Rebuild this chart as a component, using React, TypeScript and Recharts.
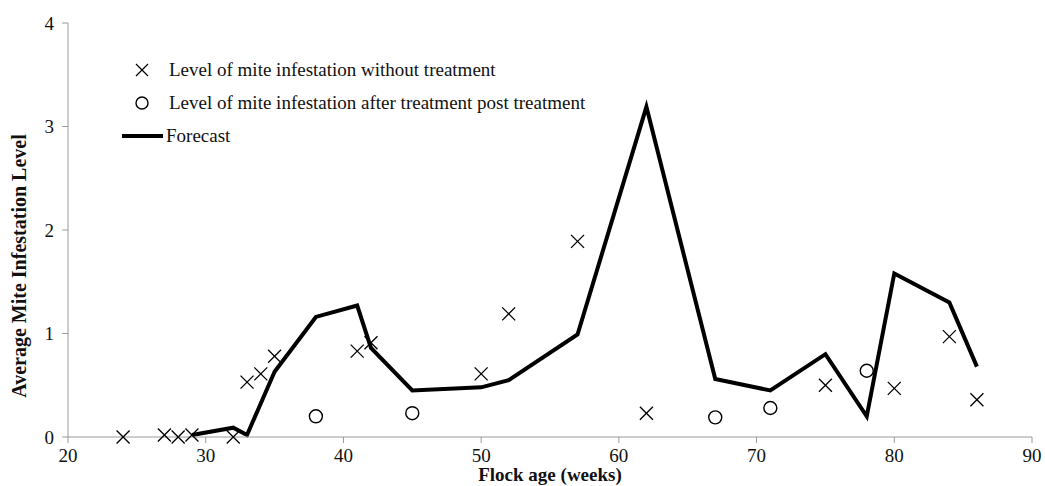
import React from 'react';
import { ComposedChart, Line, Scatter, XAxis, YAxis, Label } from 'recharts';

const untreatedWeeks = [24, 27, 28, 29, 32, 33, 34, 35, 41, 42, 50, 52, 57, 62, 75, 80, 84, 86];
const untreatedLevels = [0, 0.02, 0, 0.02, 0, 0.53, 0.61, 0.78, 0.83, 0.91, 0.61, 1.19, 1.89, 0.23, 0.5, 0.47, 0.97, 0.36];

const treatedWeeks = [38, 45, 67, 71, 78];
const treatedLevels = [0.2, 0.23, 0.19, 0.28, 0.64];

const forecastWeeks = [29, 32, 33, 35, 38, 41, 42, 45, 50, 52, 57, 62, 67, 71, 75, 78, 80, 84, 86];
const forecastLevels = [0.02, 0.09, 0.02, 0.63, 1.16, 1.27, 0.86, 0.45, 0.48, 0.55, 0.99, 3.19, 0.56, 0.45, 0.8, 0.2, 1.58, 1.3, 0.68];

const xTicks = [20, 30, 40, 50, 60, 70, 80, 90];
const yTicks = [0, 1, 2, 3, 4];

const untreated = untreatedWeeks.map((x, i) => ({ x, y: untreatedLevels[i] }));
const treated = treatedWeeks.map((x, i) => ({ x, y: treatedLevels[i] }));
const forecast = forecastWeeks.map((x, i) => ({ x, y: forecastLevels[i] }));

const FONT = '"Liberation Serif", "DejaVu Serif", serif';
const AXIS = '#9a9a9a';

const XMark = (props: any) => {
  const { cx, cy } = props;
  const r = 6.5;
  return (
    <g stroke="#000" strokeWidth={1.3}>
      <line x1={cx - r} y1={cy - r} x2={cx + r} y2={cy + r} />
      <line x1={cx - r} y1={cy + r} x2={cx + r} y2={cy - r} />
    </g>
  );
};

const OMark = (props: any) => {
  const { cx, cy } = props;
  return <circle cx={cx} cy={cy} r={6.5} fill="#fff" stroke="#000" strokeWidth={1.4} />;
};

const legendRows = [
  { kind: 'x', text: 'Level of mite infestation without treatment' },
  { kind: 'o', text: 'Level of mite infestation after treatment post treatment' },
  { kind: 'line', text: 'Forecast' },
];

const LegendBox = () => (
  <div style={{ position: 'absolute', left: 122, top: 53, fontFamily: FONT, fontSize: 19, color: '#111' }}>
    {legendRows.map((r) => (
      <div key={r.text} style={{ display: 'flex', alignItems: 'center', height: 33 }}>
        <svg width={44} height={20} style={{ flex: 'none' }}>
          {r.kind === 'x' && (
            <g stroke="#000" strokeWidth={1.3}>
              <line x1={14} y1={4} x2={26} y2={16} />
              <line x1={14} y1={16} x2={26} y2={4} />
            </g>
          )}
          {r.kind === 'o' && <circle cx={20} cy={10} r={6} fill="#fff" stroke="#000" strokeWidth={1.4} />}
          {r.kind === 'line' && <line x1={0} y1={10} x2={41} y2={10} stroke="#000" strokeWidth={4} />}
        </svg>
        <span style={{ marginLeft: r.kind === 'line' ? 0 : 3, whiteSpace: 'nowrap' }}>{r.text}</span>
      </div>
    ))}
  </div>
);

export default function App() {
  return (
    <div style={{ position: 'absolute', left: 0, top: 0, width: 1045, height: 486, background: '#fff', overflow: 'hidden' }}>
      <ComposedChart width={1045} height={486} margin={{ top: 23, right: 13, left: 0, bottom: 0 }}>
        <XAxis
          dataKey="x"
          type="number"
          domain={[20, 90]}
          ticks={xTicks}
          height={49}
          stroke={AXIS}
          tickSize={6}
          tickMargin={6}
          tick={{ fill: '#111', fontSize: 19, fontFamily: FONT }}
        >
          <Label
            content={() => (
              <text x={550} y={481} textAnchor="middle" fontFamily={FONT} fontSize={19} fontWeight="bold" fill="#111">
                Flock age (weeks)
              </text>
            )}
          />
        </XAxis>
        <YAxis
          dataKey="y"
          type="number"
          domain={[0, 4]}
          ticks={yTicks}
          width={68}
          stroke={AXIS}
          tickSize={6}
          tickMargin={8}
          tick={{ fill: '#111', fontSize: 19, fontFamily: FONT }}
        >
          <Label
            content={() => (
              <text
                x={0}
                y={0}
                transform="translate(26 266) rotate(-90)"
                textAnchor="middle"
                fontFamily={FONT}
                fontSize={20}
                fontWeight="bold"
                fill="#111"
              >
                Average Mite Infestation Level
              </text>
            )}
          />
        </YAxis>
        <Line
          data={forecast}
          dataKey="y"
          name="Forecast"
          stroke="#000"
          strokeWidth={4}
          dot={false}
          activeDot={false}
          isAnimationActive={false}
        />
        <Scatter data={untreated} dataKey="y" name="Without treatment" shape={<XMark />} isAnimationActive={false} />
        <Scatter data={treated} dataKey="y" name="After treatment" shape={<OMark />} isAnimationActive={false} />
      </ComposedChart>
      <LegendBox />
    </div>
  );
}
